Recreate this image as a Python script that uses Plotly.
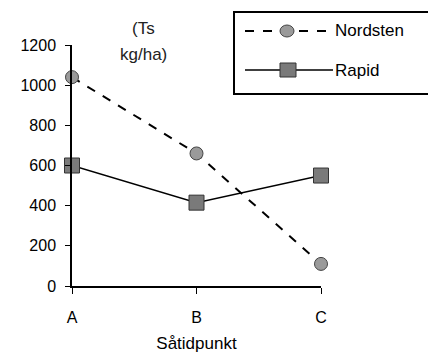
import plotly.graph_objects as go

categories = ["A", "B", "C"]
nordsten = [1040, 660, 110]
rapid = [600, 415, 550]
yticks = [0, 200, 400, 600, 800, 1000, 1200]

FONT = "Liberation Sans, Arial, sans-serif"
xs = list(range(len(categories)))

fig = go.Figure()
fig.add_trace(go.Scatter(
    x=xs, y=nordsten, mode="lines+markers", name="Nordsten",
    line=dict(color="black", width=2, dash="dash"),
    marker=dict(symbol="circle", size=13, color="#9a9a9a", line=dict(color="#444", width=1)),
    cliponaxis=False, showlegend=False))
fig.add_trace(go.Scatter(
    x=xs, y=rapid, mode="lines+markers", name="Rapid",
    line=dict(color="black", width=1.5),
    marker=dict(symbol="square", size=15, color="#7a7a7a", line=dict(color="#333", width=1)),
    cliponaxis=False, showlegend=False))

# plot area: x 72..321 px, y 45..286 px
def px(x):
    return (x - 72) / 249
def py(y):
    return (286 - y) / 241

shapes = [
    dict(type="rect", xref="paper", yref="paper", x0=px(234), x1=px(470), y0=py(94), y1=py(12),
         line=dict(color="black", width=2), fillcolor="white", layer="above"),
    dict(type="line", xref="paper", yref="paper", x0=px(245), x1=px(333), y0=py(31), y1=py(31),
         line=dict(color="black", width=2, dash="dash")),
    dict(type="circle", xref="paper", yref="paper", xsizemode="pixel", ysizemode="pixel",
         xanchor=px(287), yanchor=py(31), x0=-7, x1=7, y0=-6, y1=6,
         fillcolor="#9a9a9a", line=dict(color="#444", width=1)),
    dict(type="line", xref="paper", yref="paper", x0=px(245), x1=px(333), y0=py(70), y1=py(70),
         line=dict(color="black", width=1.5)),
    dict(type="rect", xref="paper", yref="paper", xsizemode="pixel", ysizemode="pixel",
         xanchor=px(288), yanchor=py(70), x0=-8, x1=8, y0=-7, y1=7,
         fillcolor="#7a7a7a", line=dict(color="#333", width=1)),
]

annotations = [
    dict(text="Nordsten", xref="paper", yref="paper", x=px(333), y=py(31), xanchor="left",
         yanchor="middle", showarrow=False, font=dict(size=17, color="black", family=FONT)),
    dict(text="Rapid", xref="paper", yref="paper", x=px(333), y=py(70), xanchor="left",
         yanchor="middle", showarrow=False, font=dict(size=17, color="black", family=FONT)),
    dict(text="(Ts", xref="paper", yref="paper", x=px(143), y=py(28), xanchor="center",
         yanchor="middle", showarrow=False, font=dict(size=17, color="#222", family=FONT)),
    dict(text="kg/ha)", xref="paper", yref="paper", x=px(143), y=py(55), xanchor="center",
         yanchor="middle", showarrow=False, font=dict(size=17, color="#222", family=FONT)),
]

fig.update_layout(
    width=428, height=355,
    margin=dict(l=72, r=107, t=45, b=69),
    paper_bgcolor="white", plot_bgcolor="white",
    font=dict(family=FONT, size=16, color="black"),
    shapes=shapes, annotations=annotations,
    xaxis=dict(range=[0, 2], tickvals=xs, ticktext=categories, showgrid=False, zeroline=False,
               showline=True, linecolor="black", linewidth=2, ticks="outside", ticklen=6,
               tickcolor="black", ticklabelstandoff=10, automargin=False,
               title=dict(text="Såtidpunkt", font=dict(size=17), standoff=12)),
    yaxis=dict(range=[0, 1200], tickvals=yticks, showgrid=False, zeroline=False,
               showline=True, linecolor="black", linewidth=1.5, ticks="outside", ticklen=5,
               tickcolor="black", ticklabelstandoff=6, automargin=False),
)

fig.write_html("out.html")
